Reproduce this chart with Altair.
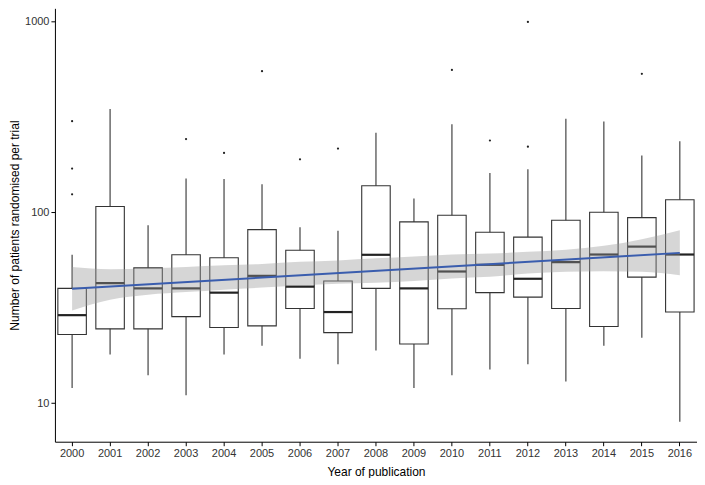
import altair as alt
import pandas as pd

# ---- data ----
years = list(range(2000, 2017))
whisker_low = [12.0, 18.0, 14.0, 11.0, 18.0, 20.0, 17.1, 16.0, 18.9, 12.0, 14.0, 15.0, 16.0, 13.0, 20.0, 22.0, 8.0]
q1 = [22.9, 24.5, 24.5, 28.4, 24.9, 25.4, 31.3, 23.4, 39.9, 20.4, 31.2, 37.9, 35.9, 31.3, 25.2, 45.7, 30.0]
median = [28.9, 42.5, 39.9, 39.9, 37.9, 46.4, 40.8, 30.0, 59.8, 39.9, 48.9, 53.0, 44.8, 54.7, 60.0, 66.0, 60.0]
q3 = [39.9, 107.0, 51.1, 59.8, 57.7, 81.0, 63.2, 43.6, 137.5, 88.9, 96.3, 78.5, 74.0, 90.7, 99.9, 93.6, 116.0]
whisker_high = [59.8, 346.0, 85.4, 150.0, 149.0, 140.0, 83.4, 79.8, 260.0, 118.0, 288.0, 160.0, 167.5, 308.0, 298.0, 198.0, 235.0]

outlier_years = [2000, 2000, 2000, 2003, 2004, 2005, 2006, 2007, 2010, 2011, 2012, 2012, 2015]
outlier_values = [299, 169, 124, 241, 204, 546, 189, 215, 555, 237, 989, 220, 529]

fit_years = [2000, 2016]
fit_values = [39.7, 61.2]
band_lower = [30.6, 34.8, 37.0, 38.2, 39.3, 40.3, 41.3, 42.2, 42.7, 43.6, 45.0, 45.9, 47.7, 48.7, 49.1, 48.7, 46.8]
band_upper = [51.6, 50.2, 50.8, 51.7, 52.7, 53.6, 55.0, 55.9, 57.3, 58.6, 60.0, 60.7, 62.0, 63.5, 66.6, 72.2, 80.4]

box_df = pd.DataFrame({"year": years, "lo": whisker_low, "q1": q1, "med": median,
                       "q3": q3, "hi": whisker_high})
out_df = pd.DataFrame({"year": outlier_years, "value": outlier_values})
fit_df = pd.DataFrame({"year": fit_years, "value": fit_values})
band_df = pd.DataFrame({"year": years, "lower": band_lower, "upper": band_upper})

FONT = "Liberation Sans"

x_scale = alt.Scale(domain=years, paddingInner=0.25, paddingOuter=0.077)
x_axis = alt.Axis(title="Year of publication", labelAngle=0, tickSize=4, labelPadding=2,
                  titlePadding=8)
y_scale = alt.Scale(type="log", domain=[6.29, 1165], nice=False)
y_axis = alt.Axis(title="Number of patients randomised per trial", values=[10, 100, 1000],
                  format="d", tickSize=4, labelPadding=2, titlePadding=3)


def X():
    return alt.X("year:O", scale=x_scale, axis=x_axis)


def Y(field):
    return alt.Y(field, type="quantitative", scale=y_scale, axis=y_axis)


whiskers = alt.Chart(box_df).mark_rule(color="#333333", strokeWidth=1.1, opacity=1).encode(
    x=X(), y=Y("lo"), y2="hi")

boxes = alt.Chart(box_df).mark_bar(fill="white", stroke="#333333", strokeWidth=1.1,
                                   opacity=1).encode(
    x=X(), y=Y("q1"), y2="q3")

medians = alt.Chart(box_df).mark_tick(color="#222222", size=28.5, thickness=2.2,
                                      opacity=1).encode(
    x=X(), y=Y("med"))

outliers = alt.Chart(out_df).mark_circle(color="#222222", size=5, opacity=1).encode(
    x=X(), y=Y("value"))

band = alt.Chart(band_df).mark_area(color="#999999", opacity=0.4, interpolate="monotone").encode(
    x=X(), y=Y("lower"), y2="upper")

fit = alt.Chart(fit_df).mark_line(color="#3A5DAE", strokeWidth=2).encode(
    x=X(), y=Y("value"))

chart = alt.layer(whiskers, boxes, medians, outliers, band, fit).properties(
    width=643, height=434, padding={"left": 0, "top": 0, "right": 0, "bottom": 0}
).configure_view(stroke=None).configure_axis(
    grid=False, domainColor="black", domainWidth=1, tickColor="black", tickWidth=1,
    labelFont=FONT, labelFontSize=11, labelColor="#333333",
    titleFont=FONT, titleFontSize=12, titleFontWeight="normal", titleColor="black"
)

chart.save("out.html", embed_options={"renderer": "svg", "actions": False})
